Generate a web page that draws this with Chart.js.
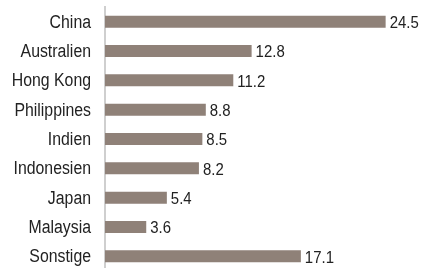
<!DOCTYPE html>
<html>
<head>
<meta charset="utf-8">
<script src="https://cdn.jsdelivr.net/npm/chart.js@4"></script>
<style>
  html, body { margin: 0; padding: 0; background: #fff; overflow: hidden; }
  canvas { display: block; }
</style>
</head>
<body>
<canvas id="myChart" width="424" height="271"></canvas>
<script>
const countries = ['China', 'Australien', 'Hong Kong', 'Philippines', 'Indien', 'Indonesien', 'Japan', 'Malaysia', 'Sonstige'];
const shares = [24.5, 12.8, 11.2, 8.8, 8.5, 8.2, 5.4, 3.6, 17.1];

const FONT = "'Liberation Sans', Arial, sans-serif";
const SQUEEZE = 0.88; // Schrift schmaler ziehen (Condensed-Optik)

function narrowText(ctx, text, x, y, align) {
    ctx.save();
    ctx.translate(x, y);
    ctx.scale(SQUEEZE, 1);
    ctx.textAlign = align;
    ctx.fillText(text, 0, 0);
    ctx.restore();
}

// Kategorienamen links und Werte rechts neben die Balken schreiben
const textLabels = {
    id: 'textLabels',
    afterDatasetsDraw(chart) {
        const ctx = chart.ctx;
        const yScale = chart.scales.y;
        const meta = chart.getDatasetMeta(0);
        ctx.save();
        ctx.textBaseline = 'middle';
        ctx.fillStyle = '#222';
        ctx.font = '18px ' + FONT;
        countries.forEach((name, i) => {
            narrowText(ctx, name, yScale.right - 14, yScale.getPixelForValue(i) + 1, 'right');
        });
        ctx.font = '17px ' + FONT;
        meta.data.forEach((bar, i) => {
            narrowText(ctx, shares[i].toFixed(1), bar.x + 4, bar.y + 1.5, 'left');
        });
        ctx.restore();
    }
};

const ctx = document.getElementById('myChart').getContext('2d');
new Chart(ctx, {
    type: 'bar',
    data: {
        labels: countries,
        datasets: [{
            data: shares,
            backgroundColor: '#8f8178',
            barPercentage: 0.41,
            categoryPercentage: 1
        }]
    },
    options: {
        indexAxis: 'y',
        responsive: false,
        animation: false,
        layout: { padding: { top: 7, right: 4, bottom: 0, left: 0 } },
        plugins: {
            legend: { display: false },
            tooltip: { enabled: false }
        },
        scales: {
            x: {
                display: false,
                min: 0,
                max: 27.5
            },
            y: {
                grid: { display: false, drawTicks: false },
                border: { display: true, color: '#cfcfcf', width: 2 },
                ticks: { display: false },
                afterFit(scale) { scale.width = 105; }
            }
        }
    },
    plugins: [textLabels]
});
</script>
</body>
</html>
